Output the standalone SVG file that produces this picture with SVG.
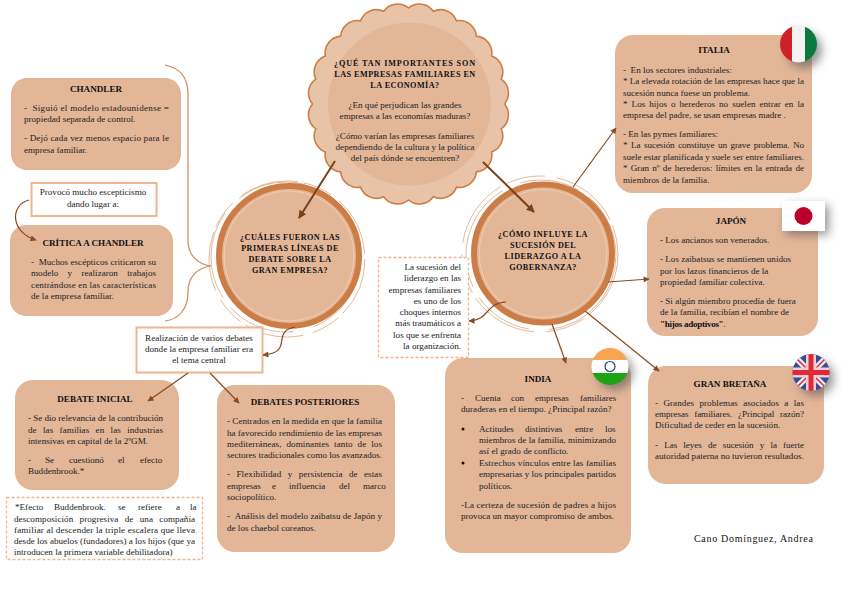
<svg xmlns="http://www.w3.org/2000/svg" width="848" height="599" viewBox="0 0 848 599">
<style>
text{font-family:"Liberation Serif",serif;font-size:9.1px;fill:#222}
.b{fill:#e3b698}
.h{font-weight:bold;text-anchor:middle;fill:#111}
.c{text-anchor:middle}
.r{text-anchor:end}
.t{font-weight:bold;text-anchor:middle;letter-spacing:.45px;fill:#111;font-size:8.2px}
.o{fill:#fff;stroke:#f2b48c;stroke-width:2}
.d{fill:#fff;stroke:#f2b48c;stroke-width:1.3;stroke-dasharray:3 2}
.l{fill:none;stroke:#8a4a20;stroke-width:1.2}
.k{fill:none;stroke:#7a4018;stroke-width:2}
.a{fill:none;stroke:#cf8a5c;stroke-width:1.2}
.ring{fill:#e3b698;stroke:#cb7d45;stroke-width:6}
.th{fill:none;stroke:#d99a72;stroke-width:.7}
.in{fill:none;stroke:#efd3bf;stroke-width:.8}
</style>
<defs>
<marker id="m" viewBox="0 0 10 10" refX="9" refY="5" markerWidth="7" markerHeight="6" markerUnits="userSpaceOnUse" orient="auto"><path d="M0 0L10 5L0 10z" fill="#8a4a20"/></marker>
<marker id="mk" viewBox="0 0 10 10" refX="9" refY="5" markerWidth="8" markerHeight="8" markerUnits="userSpaceOnUse" orient="auto"><path d="M0 0L10 5L0 10z" fill="#7a4018"/></marker>
<filter id="s" x="-50%" y="-50%" width="220%" height="220%"><feGaussianBlur stdDeviation="5"/></filter>
<clipPath id="cI"><circle cx="798.500" cy="44" r="18.500"/></clipPath>
<clipPath id="cN"><circle cx="610" cy="366.500" r="18.500"/></clipPath>
<clipPath id="cU"><circle cx="811" cy="372.500" r="18.500"/></clipPath>
</defs>
<rect width="848" height="599" fill="#fff"/>

<g id="chandler"><rect class="b" x="11" y="78" width="170" height="92" rx="16"/>
<text class="h" x="96" y="92">CHANDLER</text>
<text x="24" y="111" textLength="145">-&#160;&#160;Siguió el modelo estadounidense =</text>
<text x="24" y="122">propiedad separada de control.</text>
<text x="24" y="141" textLength="145">-&#160;Dejó cada vez menos espacio para le</text>
<text x="24" y="153">empresa familiar.</text></g>

<g id="provoco"><rect class="o" x="31.500" y="183" width="125" height="33"/>
<text class="c" x="93" y="195">Provocó mucho escepticismo</text>
<text class="c" x="93" y="207">dando lugar a:</text></g>

<g id="critica"><rect class="b" x="10" y="225" width="163" height="91" rx="16"/>
<text class="h" x="93" y="246">CRÍTICA A CHANDLER</text>
<text x="31" y="265" textLength="125">-&#160;&#160;Muchos escépticos criticaron su</text>
<text x="31" y="276" textLength="125" word-spacing="7">modelo y realizaron trabajos</text>
<text x="31" y="288" textLength="125">centrándose en las características</text>
<text x="31" y="299">de la empresa familiar.</text></g>

<g id="circulo-izq">
<circle class="th" cx="287" cy="259" r="78" stroke-dasharray="60 6 30 10"/>
<circle class="th" cx="286" cy="257" r="75" stroke-dasharray="90 20 70 12"/>
<circle class="ring" cx="289" cy="256" r="70"/>
<circle class="in" cx="289" cy="256" r="65"/>
<text class="t" x="290" y="239.500">¿CUÁLES FUERON LAS</text>
<text class="t" x="290" y="250.500">PRIMERAS LÍNEAS DE</text>
<text class="t" x="290" y="261.500">DEBATE SOBRE LA</text>
<text class="t" x="290" y="272.500">GRAN EMPRESA?</text></g>

<g id="realizacion"><rect class="o" x="136.500" y="327.500" width="126" height="45"/>
<text class="c" x="199" y="341">Realización de varios debates</text>
<text class="c" x="199" y="352">donde la empresa familiar era</text>
<text class="c" x="199" y="363">el tema central</text></g>

<g id="debate-inicial"><rect class="b" x="15" y="380" width="164" height="110" rx="18"/>
<text class="h" x="95" y="402">DEBATE INICIAL</text>
<text x="28" y="421" textLength="135">- Se dio relevancia de la contribución</text>
<text x="28" y="433" textLength="135" word-spacing="4">de las familias en las industrias</text>
<text x="28" y="444">intensivas en capital de la 2ºGM.</text>
<text x="28" y="463"><tspan>-</tspan><tspan x="45">Se</tspan><tspan x="69">cuestionó</tspan><tspan x="118">el</tspan><tspan x="140">efecto</tspan></text>
<text x="28" y="474">Buddenbrook.*</text></g>

<g id="nota"><rect class="d" x="6.500" y="497.500" width="196" height="62"/>
<text x="15" y="510"><tspan>*Efecto</tspan><tspan x="54">Buddenbrook.</tspan><tspan x="118">se</tspan><tspan x="138">refiere</tspan><tspan x="176">a</tspan><tspan x="190">la</tspan></text>
<text x="14" y="522" textLength="181" word-spacing="4">descomposición progresiva de una compañía</text>
<text x="14" y="533" textLength="181">familiar al descender la triple escalera que lleva</text>
<text x="14" y="544" textLength="181">desde los abuelos (fundadores) a los hijos (que ya</text>
<text x="14" y="555">introducen la primera variable debilitadora)</text></g>

<g id="debates-posteriores"><rect class="b" x="217" y="385" width="178" height="167" rx="18"/>
<text class="h" x="305" y="405">DEBATES POSTERIORES</text>
<text x="227" y="424" textLength="155">- Centrados en la medida en que la familia</text>
<text x="227" y="436" textLength="155">ha favorecido rendimiento de las empresas</text>
<text x="227" y="447" textLength="155" word-spacing="2.500">mediterráneas, dominantes tanto de los</text>
<text x="227" y="458" textLength="155">sectores tradicionales como los avanzados.</text>
<text x="227" y="477" textLength="155" word-spacing="4">-&#160;Flexibilidad y persistencia de estas</text>
<text x="227" y="489"><tspan>empresas</tspan><tspan x="272">e</tspan><tspan x="289">influencia</tspan><tspan x="339">del</tspan><tspan x="363">marco</tspan></text>
<text x="227" y="500">sociopolítico.</text>
<text x="227" y="519" textLength="155">-&#160;&#160;Análisis del modelo zaibatsu de Japón y</text>
<text x="227" y="531">de los chaebol coreanos.</text></g>

<g id="escalloped">
<path fill="#e9c3a8" stroke="#cb7d45" stroke-width="1.500" transform="translate(408.500 104) scale(1.0435) translate(-408.500 -104)" d="M500.500 104A16.300 16.300 0 0 1 497.360 127.810A16.300 16.300 0 0 1 488.170 150A16.300 16.300 0 0 1 473.550 169.050A16.300 16.300 0 0 1 454.500 183.670A16.300 16.300 0 0 1 432.310 192.860A16.300 16.300 0 0 1 408.500 196A16.300 16.300 0 0 1 384.690 192.860A16.300 16.300 0 0 1 362.500 183.670A16.300 16.300 0 0 1 343.450 169.050A16.300 16.300 0 0 1 328.830 150A16.300 16.300 0 0 1 319.640 127.810A16.300 16.300 0 0 1 316.500 104A16.300 16.300 0 0 1 319.640 80.190A16.300 16.300 0 0 1 328.830 58A16.300 16.300 0 0 1 343.450 38.950A16.300 16.300 0 0 1 362.500 24.330A16.300 16.300 0 0 1 384.690 15.140A16.300 16.300 0 0 1 408.500 12A16.300 16.300 0 0 1 432.310 15.140A16.300 16.300 0 0 1 454.500 24.330A16.300 16.300 0 0 1 473.550 38.950A16.300 16.300 0 0 1 488.170 58A16.300 16.300 0 0 1 497.360 80.190A16.300 16.300 0 0 1 500.500 104Z"/>
<circle cx="409.500" cy="104" r="81.500" fill="#e3b698"/>
<text class="t" x="405" y="65.500" style="letter-spacing:.85px">¿QUÉ TAN IMPORTANTES SON</text>
<text class="t" x="405" y="76.500">LAS EMPRESAS FAMILIARES EN</text>
<text class="t" x="405" y="88">LA ECONOMÍA?</text>
<text class="c" x="405" y="108">¿En qué perjudican las grandes</text>
<text class="c" x="405" y="119">empresas a las economías maduras?</text>
<text class="c" x="405" y="139">¿Cómo varían las empresas familiares</text>
<text class="c" x="405" y="150">dependiendo de la cultura y la política</text>
<text class="c" x="405" y="161">del país dónde se encuentren?</text></g>

<g id="circulo-der">
<circle class="th" cx="540" cy="254" r="78" stroke-dasharray="70 6 40 12"/>
<circle class="th" cx="541" cy="255" r="75" stroke-dasharray="110 20 60 12"/>
<circle class="ring" cx="543" cy="253.500" r="69"/>
<circle class="in" cx="543" cy="253.500" r="64"/>
<text class="t" x="543" y="237">¿CÓMO INFLUYE LA</text>
<text class="t" x="543" y="248">SUCESIÓN DEL</text>
<text class="t" x="543" y="259">LIDERAZGO A LA</text>
<text class="t" x="543" y="270">GOBERNANZA?</text></g>

<g id="sucesion"><rect class="d" x="378.500" y="257.500" width="90" height="100"/>
<text class="r" x="461" y="270">La sucesión del</text>
<text class="r" x="461" y="281">liderazgo en las</text>
<text class="r" x="461" y="293">empresas familiares</text>
<text class="r" x="461" y="304">es uno de los</text>
<text class="r" x="461" y="315">choques internos</text>
<text class="r" x="461" y="326">más traumáticos a</text>
<text class="r" x="461" y="338">los que se enfrenta</text>
<text class="r" x="461" y="349">la organización.</text></g>

<g id="italia"><rect class="b" x="615" y="35" width="197" height="158" rx="18"/>
<text class="h" x="714" y="53">ITALIA</text>
<text x="623" y="73">-&#160;&#160;En los sectores industriales:</text>
<text x="623" y="84" textLength="181">* La elevada rotación de las empresas hace que la</text>
<text x="623" y="96">sucesión nunca fuese un problema.</text>
<text x="623" y="107" textLength="181" word-spacing="1.700">*&#160;Los hijos o herederos no suelen entrar en la</text>
<text x="623" y="118">empresa del padre, se usan empresas madre .</text>
<text x="623" y="137">- En las pymes familiares:</text>
<text x="623" y="148" textLength="181" word-spacing="1.500">* La sucesión constituye un grave problema. No</text>
<text x="623" y="160" textLength="181">suele estar planificada y suele ser entre familiares.</text>
<text x="623" y="171" textLength="181" word-spacing="1">*&#160;Gran nº de herederos: límites en la entrada de</text>
<text x="623" y="183">miembros de la familia.</text></g>
<g id="flag-italia">
<circle cx="804" cy="50" r="18" fill="#555" opacity=".6" filter="url(#s)"/>
<g clip-path="url(#cI)"><rect x="780" y="25" width="13" height="38" fill="#ce2028"/><rect x="792" y="25" width="13" height="38" fill="#f2f2f2"/><rect x="805" y="25" width="13" height="38" fill="#0b7a3e"/></g></g>

<g id="japon"><rect class="b" x="647" y="208" width="171" height="128" rx="18"/>
<text class="h" x="731" y="224">JAPÓN</text>
<text x="660" y="243">- Los ancianos son venerados.</text>
<text x="660" y="262">- Los zaibatsus se mantienen unidos</text>
<text x="660" y="274">por los lazos financieros de la</text>
<text x="660" y="285">propiedad familiar colectiva.</text>
<text x="660" y="304">- Si algún miembro procedía de fuera</text>
<text x="660" y="315">de la familia, recibían el nombre de</text>
<text x="660" y="327"><tspan font-weight="bold" fill="#111" letter-spacing="-.3">"hijos adoptivos"</tspan>.</text></g>
<g id="flag-japon">
<rect x="786" y="205" width="43" height="30" fill="#555" opacity=".6" filter="url(#s)"/>
<rect x="782" y="201" width="43" height="30" fill="#fff"/><circle cx="803.500" cy="216" r="9" fill="#bc002d"/></g>

<g id="india"><rect class="b" x="445" y="358" width="186" height="195" rx="18"/>
<text class="h" x="538" y="382">INDIA</text>
<text x="461" y="401"><tspan>-</tspan><tspan x="475">Cuenta</tspan><tspan x="511">con</tspan><tspan x="535">empresas</tspan><tspan x="580">familiares</tspan></text>
<text x="461" y="412">duraderas en el tiempo. ¿Principal razón?</text>
<circle cx="463" cy="429" r="1.500" fill="#111"/><circle cx="463" cy="463" r="1.500" fill="#111"/>
<text x="479" y="432"><tspan>Actitudes</tspan><tspan x="525">distintivas</tspan><tspan x="575">entre</tspan><tspan x="605">los</tspan></text>
<text x="479" y="443" textLength="137">miembros de la familia, minimizando</text>
<text x="479" y="454">así el grado de conflicto.</text>
<text x="479" y="466" textLength="137">Estrechos vínculos entre las familias</text>
<text x="479" y="477" textLength="137">empresarias y los principales partidos</text>
<text x="479" y="489">políticos.</text>
<text x="461" y="508" textLength="155">-La certeza de sucesión de padres a hijos</text>
<text x="461" y="519">provoca un mayor compromiso de ambos.</text></g>
<g id="flag-india">
<circle cx="615" cy="372" r="18" fill="#555" opacity=".6" filter="url(#s)"/>
<g clip-path="url(#cN)"><rect x="591" y="348" width="38" height="13" fill="#f7a552"/><rect x="591" y="360" width="38" height="13" fill="#fff"/><rect x="591" y="373" width="38" height="13" fill="#1ea315"/><circle cx="610" cy="366.500" r="5" fill="none" stroke="#27408b" stroke-width="1.200"/></g></g>

<g id="bretana"><rect class="b" x="648" y="366" width="176" height="118" rx="18"/>
<text class="h" x="730" y="387">GRAN BRETAÑA</text>
<text x="655" y="406" textLength="149" word-spacing="3">-&#160;Grandes problemas asociados a las</text>
<text x="655" y="417" textLength="149" word-spacing="3.500">empresas familiares. ¿Principal razón?</text>
<text x="655" y="428">Dificultad de ceder en la sucesión.</text>
<text x="655" y="448" textLength="149" word-spacing="4">-&#160;Las leyes de sucesión y la fuerte</text>
<text x="655" y="459">autoridad paterna no tuvieron resultados.</text></g>
<g id="flag-uk">
<circle cx="816" cy="378" r="18" fill="#555" opacity=".6" filter="url(#s)"/>
<g clip-path="url(#cU)"><rect x="792" y="354" width="38" height="38" fill="#3a4a9a"/>
<path d="M792 354L830 392M830 354L792 392" stroke="#eee" stroke-width="6"/>
<path d="M792 354L830 392M830 354L792 392" stroke="#e0283a" stroke-width="1.500"/>
<path d="M811 354V392M792 372.500H830" stroke="#f2d0d0" stroke-width="10"/>
<path d="M811 354V392M792 372.500H830" stroke="#e0283a" stroke-width="5"/></g></g>

<text id="autor" x="694" y="542" style="font-size:10px;letter-spacing:.7px;fill:#111">Cano Domínguez, Andrea</text>

<g id="connectors">
<path class="a" d="M165 65C180 68 188 78 188 94V240C188 255 197 264 211 266C197 268 188 277 188 292C188 308 180 319 165 321"/>
<path class="k" d="M335 161L299 218" marker-end="url(#mk)"/>
<path class="k" d="M483 162L534 212" marker-end="url(#mk)"/>
<path class="l" d="M573 187L616 128" marker-end="url(#m)"/>
<path class="l" d="M608 282L649 279" marker-end="url(#m)"/>
<path class="l" d="M552 324L566 363" marker-end="url(#m)"/>
<path class="l" d="M585 311L659 371" marker-end="url(#m)"/>
<path class="l" d="M506 302C485 303 490 320 469 321" marker-end="url(#m)"/>
<path class="l" d="M29 200C10 205 10 232 36 240" marker-end="url(#m)"/>
<path class="l" d="M295 327C270 332 295 352 263 355" marker-end="url(#m)"/>
<path class="l" d="M188 373L148 401" marker-end="url(#m)"/>
<path class="l" d="M210 373L239 403" marker-end="url(#m)"/>
</g>
</svg>
